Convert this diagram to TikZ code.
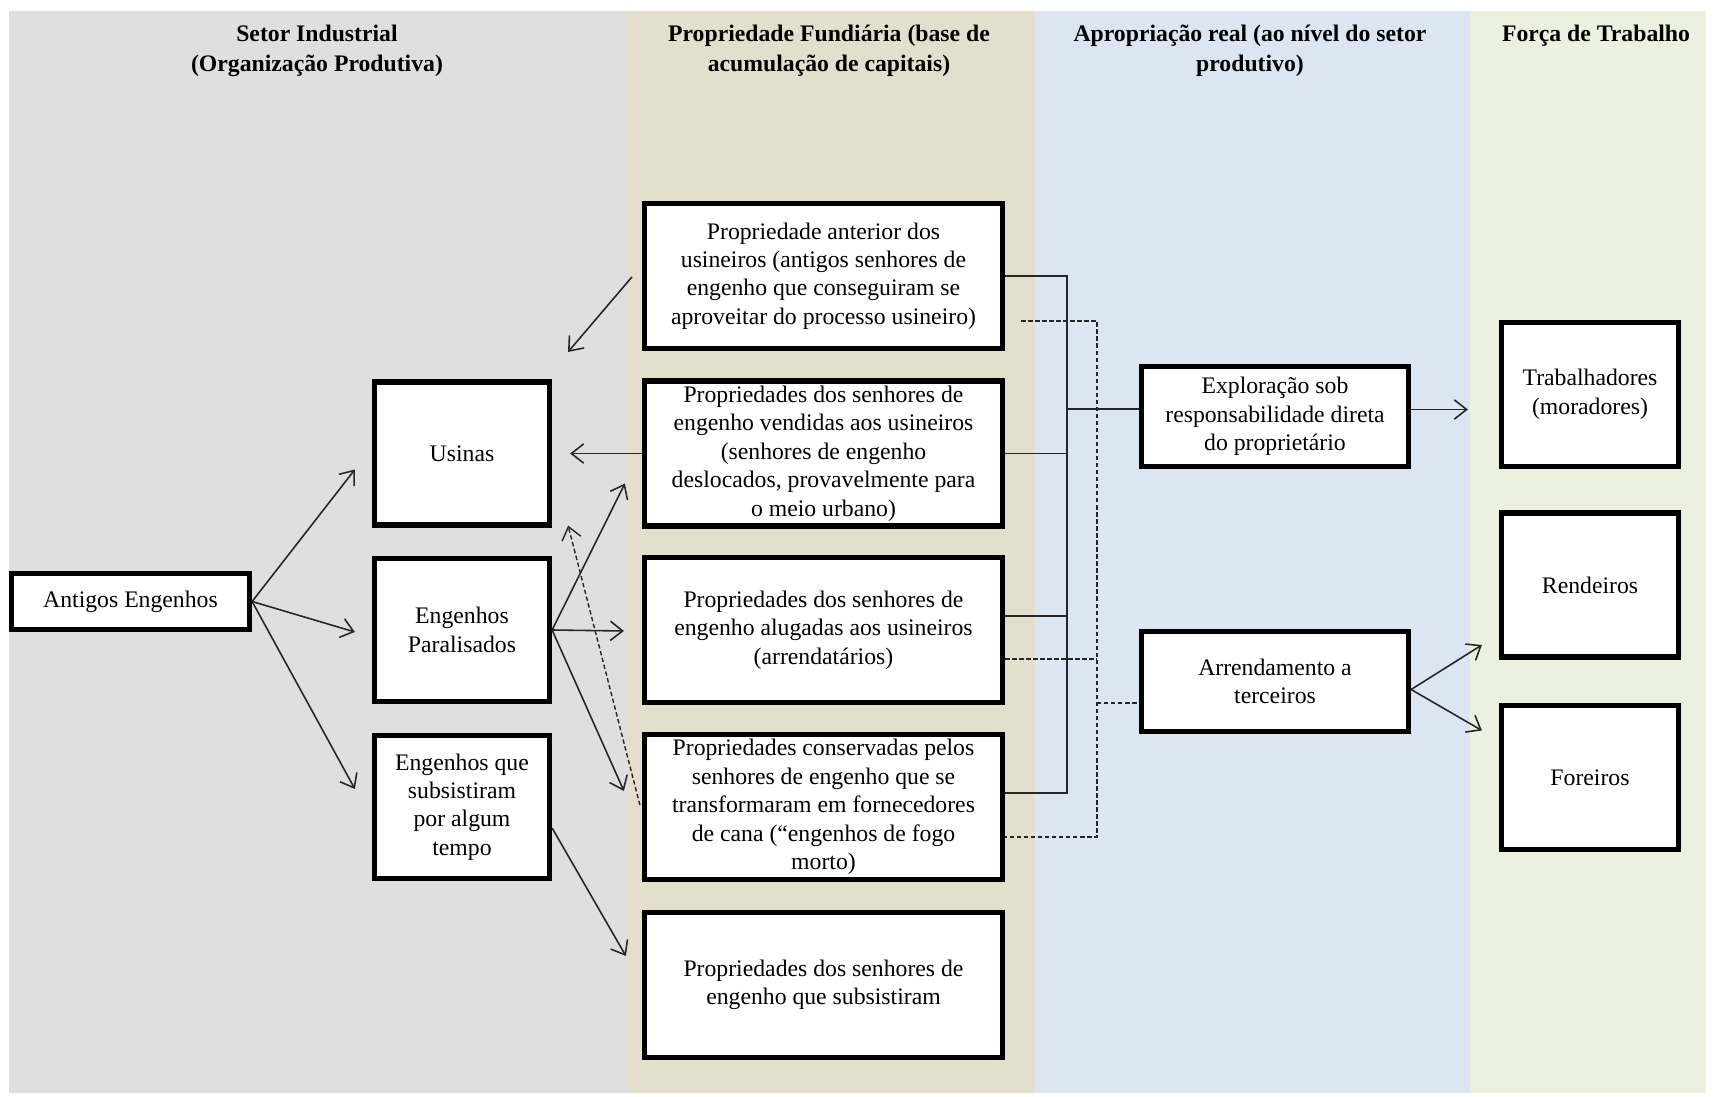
\documentclass[tikz,border=0pt]{standalone}
\usepackage{fontspec}
\setmainfont{Liberation Serif}
\usetikzlibrary{arrows.meta,calc}

\definecolor{bandGray}{HTML}{DFDFDF}
\definecolor{bandTan}{HTML}{E4DFCD}
\definecolor{bandBlue}{HTML}{DCE6F2}
\definecolor{bandGreen}{HTML}{EBF1DE}

\begin{document}
\begin{tikzpicture}[x=0.02cm, y=0.02cm,
    every node/.style={font=\fontsize{13.5}{16.2}\selectfont, align=center},
    box/.style={draw, line width=3pt, fill=white, inner sep=1pt},
    engbox/.style={box, minimum width=3.5cm, minimum height=2.86cm},
    propbox/.style={box, minimum width=7.16cm, minimum height=2.9cm},
    aprbox/.style={box, minimum width=5.34cm, minimum height=2cm},
    trbbox/.style={box, minimum width=3.54cm, minimum height=2.88cm},
    head/.style={font=\fontsize{13.5}{16.8}\selectfont\bfseries},
    link/.style={draw=black!85, line width=0.9pt},
    arr/.style={link, -{Straight Barb[length=7pt,width=11pt]}},
    dashln/.style={draw=black!85, line width=0.8pt, dash pattern=on 2.5pt off 1.5pt}]
    \useasboundingbox (0,0) rectangle (1714,1096);

    % Column bands
    \fill[bandGray] (9,3) rectangle (628,1085);
    \fill[bandTan] (628,3) rectangle (1035,1085);
    \fill[bandBlue] (1035,3) rectangle (1470,1085);
    \fill[bandGreen] (1470,3) rectangle (1706,1085);

    % Column titles
    \node[head] (hSetor) at (317,1045) {Setor Industrial\\(Organização Produtiva)};
    \node[head] (hProp) at (829,1045) {Propriedade Fundiária (base de\\acumulação de capitais)};
    \node[head] (hApr) at (1250,1045) {Apropriação real (ao nível do setor\\produtivo)};
    \node[head] (hForca) at (1596,1060) {Força de Trabalho};

    % Setor industrial
    \node[box, minimum width=4.76cm, minimum height=1.12cm] (antigos) at (130.5,494.5) {Antigos Engenhos};
    \node[engbox] (usinas) at (462,642.5) {Usinas};
    \node[engbox] (paral) at (462,466) {Engenhos\\Paralisados};
    \node[engbox] (subsist) at (462,289) {Engenhos que\\subsistiram\\por algum\\tempo};

    % Propriedade fundiaria
    \node[propbox] (pAnt) at (823.5,820) {Propriedade anterior dos\\usineiros (antigos senhores de\\engenho que conseguiram se\\aproveitar do processo usineiro)};
    \node[propbox] (pVend) at (823.5,642.5) {Propriedades dos senhores de\\engenho vendidas aos usineiros\\(senhores de engenho\\deslocados, provavelmente para\\o meio urbano)};
    \node[propbox] (pAlug) at (823.5,466) {Propriedades dos senhores de\\engenho alugadas aos usineiros\\(arrendatários)};
    \node[propbox] (pCons) at (823.5,289) {Propriedades conservadas pelos\\senhores de engenho que se\\transformaram em fornecedores\\de cana (“engenhos de fogo\\morto)};
    \node[propbox] (pSub) at (823.5,111) {Propriedades dos senhores de\\engenho que subsistiram};

    % Apropriacao real
    \node[aprbox] (explor) at (1275,679.5) {Exploração sob\\responsabilidade direta\\do proprietário};
    \node[aprbox] (arrend) at (1275,414.5) {Arrendamento a\\terceiros};

    % Forca de trabalho
    \node[trbbox] (trab) at (1590,701.5) {Trabalhadores\\(moradores)};
    \node[trbbox] (rend) at (1590,511) {Rendeiros};
    \node[trbbox] (foreiros) at (1590,318.5) {Foreiros};

    % Arrows from the old engenhos
    \draw[arr] (antigos.east) -- ($(usinas.west)+(-17,-16)$);
    \draw[arr] (antigos.east) -- ($(paral.west)+(-17,-2)$);
    \draw[arr] (antigos.east) -- ($(subsist.west)+(-17,18)$);

    \coordinate (cAnt) at (568,744);
    \draw[arr] ($(pAnt.west)+(-10,-1)$) -- (cAnt);
    \draw[arr] (pVend.west) -- ($(usinas.east)+(18,0)$);
    \draw[arr] (paral.east) -- ($(pVend.west)+(-17,-30)$);
    \draw[arr] (paral.east) -- ($(pAlug.west)+(-18,-1)$);
    \draw[arr] (paral.east) -- ($(pCons.west)+(-18,16)$);
    \draw[dashln, -{Straight Barb[length=7pt,width=11pt]}] ($(pCons.west)+(-2,2)$) -- ($(usinas.south east)+(16,2)$);
    \draw[arr] ($(subsist.east)+(0,-21)$) -- ($(pSub.west)+(-16,29)$);

    % Solid bus -> direct exploitation
    \coordinate (busS) at (1067,687);
    \draw[link] (pAnt.east) -| ($(busS |- pCons.east)+(0,14)$) -- ($(pCons.east)+(0,14)$);
    \draw[link] (pVend.east) -- (pVend.east -| busS);
    \draw[link] ($(pAlug.east)+(0,14)$) -- ($(busS |- pAlug.east)+(0,14)$);
    \draw[link] (busS) -- (busS -| explor.west);

    % Dashed bus -> leasing
    \coordinate (busD) at (1097,393);
    \draw[dashln] ($(pAnt.east)+(16,-45)$) -| ($(busD |- pCons.east)+(0,-30)$) -- ($(pCons.east)+(0,-30)$);
    \draw[dashln] ($(pAlug.east)+(0,-29)$) -- ($(busD |- pAlug.east)+(0,-29)$);
    \draw[dashln] (busD) -- (busD -| arrend.west);

    % To the work force
    \draw[arr] ($(explor.east)+(0,7)$) -- ($(trab.west)+(-31,-15)$);
    \draw[arr] ($(arrend.east)+(0,-8)$) -- ($(rend.west)+(-17,-60)$);
    \draw[arr] ($(arrend.east)+(0,-8)$) -- ($(foreiros.west)+(-17,47)$);
\end{tikzpicture}
\end{document}
